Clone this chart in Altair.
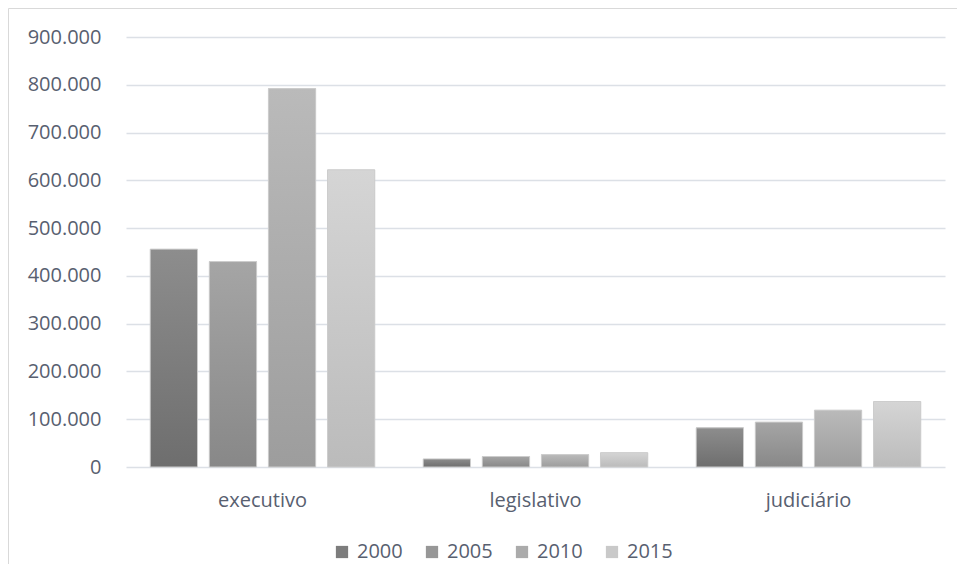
import altair as alt
import pandas as pd

# Servidores por poder e ano
poderes = ["executivo", "legislativo", "judiciário"]
anos = ["2000", "2005", "2010", "2015"]
executivo = [456000, 430000, 792000, 622000]
legislativo = [17000, 22000, 26000, 30000]
judiciario = [82000, 94000, 119000, 137000]
y_ticks = [0, 100000, 200000, 300000, 400000, 500000, 600000, 700000, 800000, 900000]

# gradient (top, bottom) and flat legend colour for each year
grad_top = ["#8d8d8d", "#a5a5a5", "#bababa", "#d5d5d5"]
grad_bottom = ["#6e6e6e", "#888888", "#9d9d9d", "#bbbbbb"]
legend_colors = ["#7d7d7d", "#979797", "#ababab", "#c9c9c9"]

rows = []
for poder, valores in zip(poderes, [executivo, legislativo, judiciario]):
    for ano, v in zip(anos, valores):
        rows.append({"poder": poder, "ano": ano, "valor": v})
df = pd.DataFrame(rows)

FONT = "Open Sans"
TEXT = "#586070"
W, H = 819, 430


def gradient(top, bottom):
    return {
        "gradient": "linear",
        "x1": 0, "x2": 0, "y1": 0, "y2": 1,
        "stops": [{"offset": 0, "color": top}, {"offset": 1, "color": bottom}],
    }


x_enc = alt.X(
    "poder:N",
    sort=poderes,
    scale=alt.Scale(paddingInner=0, paddingOuter=0),
    axis=alt.Axis(
        title=None, labelAngle=0, domain=False, ticks=False, tickSize=0,
        labelFont=FONT, labelFontSize=20, labelColor=TEXT,
        labelBaseline="middle", labelPadding=33,
    ),
)
xoff_enc = alt.XOffset(
    "ano:N", sort=anos, scale=alt.Scale(paddingInner=0.2, paddingOuter=0.41)
)
y_enc = alt.Y(
    "valor:Q",
    scale=alt.Scale(domain=[0, 900000], nice=False),
    axis=alt.Axis(
        title=None, values=y_ticks, domain=False, ticks=False, tickSize=0,
        labelExpr="replace(format(datum.value, ','), /,/g, '.')",
        labelFont=FONT, labelFontSize=20, labelColor=TEXT, labelPadding=25,
        gridColor="#dce0e6", gridWidth=1.5,
    ),
)

base = alt.Chart(df).mark_bar().encode(
    x=x_enc,
    xOffset=xoff_enc,
    y=y_enc,
    color=alt.Color(
        "ano:N",
        sort=anos,
        scale=alt.Scale(domain=anos, range=legend_colors),
        legend=alt.Legend(
            title=None, orient="none", direction="horizontal",
            legendX=206, legendY=505, padding=0,
            symbolType="square", symbolSize=150, symbolStrokeWidth=0,
            labelFont=FONT, labelFontSize=20, labelColor=TEXT,
            labelOffset=5, columnPadding=19,
        ),
    ),
)

fill_cond = {
    "condition": [
        {"test": f"datum.ano === '{a}'", "value": gradient(t, b)}
        for a, t, b in zip(anos[:-1], grad_top[:-1], grad_bottom[:-1])
    ],
    "value": gradient(grad_top[-1], grad_bottom[-1]),
}

bars = alt.Chart(df).mark_bar(stroke="#cdcdcd", strokeWidth=1).encode(
    x=x_enc,
    xOffset=xoff_enc,
    y=y_enc,
    fill=fill_cond,
)

# chart-area frame (left and top edges)
frame = alt.Chart(pd.DataFrame({"k": [0]})).mark_rect(
    fillOpacity=0, stroke="#d9d9d9", strokeWidth=1
).encode(
    x=alt.value(-117.5), x2=alt.value(W + 40),
    y=alt.value(-28.5), y2=alt.value(H + 140),
)

chart = (
    alt.layer(base, bars, frame)
    .properties(
        width=W, height=H,
        autosize=alt.AutoSizeParams(type="none"),
        padding={"left": 126, "top": 37, "right": 12, "bottom": 97},
        background="white",
    )
    .configure_view(strokeWidth=0)
)

chart.save("out.html", embed_options={"renderer": "svg", "actions": False})
